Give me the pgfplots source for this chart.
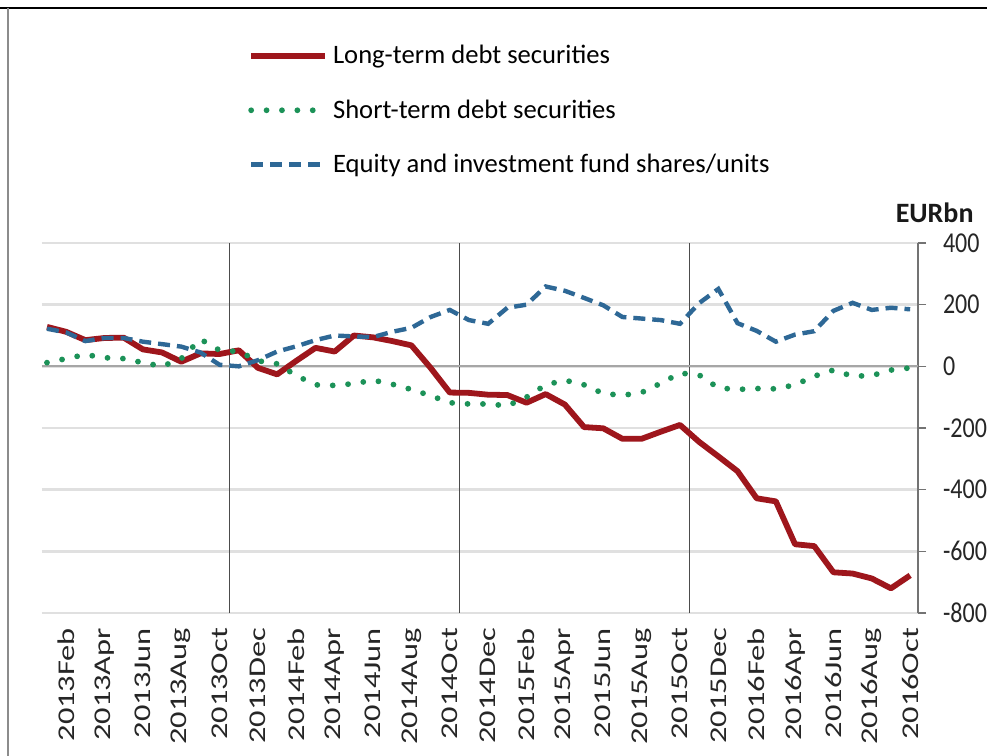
\documentclass[border=0pt]{standalone}
\usepackage{pgfplots}
\pgfplotsset{compat=1.18}
\usepackage{fontspec}
\setmainfont{Carlito}
\usepackage{graphicx}
\definecolor{ltred}{RGB}{158,22,28}
\definecolor{stgreen}{RGB}{28,146,88}
\definecolor{eqblue}{RGB}{46,104,150}
\newcommand{\sx}[1]{\scalebox{1.35}[1]{#1}}
\newcommand{\sy}[1]{\scalebox{1}[1.2]{#1}}

\pgfplotstableread{
x long short equity
0 128 12 122
1 112 25 110
2 85 38 82
3 92 28 92
4 93 25 92
5 55 12 80
6 45 0 72
7 15 25 64
8 42 88 45
9 40 52 5
10 52 48 0
11 -5 18 20
12 -26 8 48
13 18 -30 65
14 60 -60 85
15 48 -62 100
16 100 -56 97
17 94 -45 95
18 82 -58 112
19 68 -75 125
20 -5 -95 160
21 -85 -118 183
22 -86 -122 150
23 -92 -122 138
24 -93 -128 190
25 -118 -100 200
26 -90 -60 259
27 -124 -45 245
28 -197 -60 222
29 -201 -88 198
30 -235 -94 160
31 -235 -85 155
32 -212 -55 150
33 -190 -22 138
34 -245 -28 205
35 -292 -70 251
36 -340 -75 140
37 -428 -72 115
38 -438 -73 80
39 -577 -60 103
40 -583 -32 114
41 -668 -12 180
42 -672 -32 206
43 -688 -30 183
44 -720 -12 190
45 -678 -5 185
}\datatable

\begin{document}
\begin{tikzpicture}
\useasboundingbox (-21pt,-71.5pt) rectangle (472.5pt,306.5pt);
\clip (-21pt,-71.5pt) rectangle (472.5pt,306.5pt);
\fill[white] (-21pt,-71.5pt) rectangle (472.5pt,306.5pt);
\draw[black, line width=1pt] (-21pt,302.5pt) -- (472.5pt,302.5pt);
\draw[black!45, line width=1pt] (-17pt,302.5pt) -- (-17pt,-71.5pt);
\begin{axis}[
  at={(0pt,0pt)}, anchor=south west,
  scale only axis, width=438pt, height=185pt,
  xmin=-0.26, xmax=45.41, ymin=-800, ymax=400,
  axis x line*=bottom, axis y line*=right,
  x axis line style={draw=none},
  y axis line style={draw=black!55, line width=0.8pt},
  tick align=outside,
  xtick={1,3,...,45},
  xticklabels={\sx{2013Feb},\sx{2013Apr},\sx{2013Jun},\sx{2013Aug},\sx{2013Oct},\sx{2013Dec},
    \sx{2014Feb},\sx{2014Apr},\sx{2014Jun},\sx{2014Aug},\sx{2014Oct},\sx{2014Dec},
    \sx{2015Feb},\sx{2015Apr},\sx{2015Jun},\sx{2015Aug},\sx{2015Oct},\sx{2015Dec},
    \sx{2016Feb},\sx{2016Apr},\sx{2016Jun},\sx{2016Aug},\sx{2016Oct}},
  x tick label style={rotate=90, anchor=east, font=\fontsize{12pt}{14pt}\selectfont, text=black!85},
  xtick style={draw=none},
  ytick={-800,-600,...,400},
  yticklabels={\sy{-800},\sy{-600},\sy{-400},\sy{-200},\sy{0},\sy{200},\sy{400}},
  y tick label style={anchor=west, xshift=5pt, font=\fontsize{12pt}{14pt}\selectfont, text=black!85},
  ytick style={draw=black!55, line width=0.8pt},
  major tick length=4pt,
  ymajorgrids,
  major grid style={draw=black!12, line width=1.2pt},
  extra x ticks={9.5,21.5,33.5},
  extra x tick labels={},
  extra x tick style={grid=major, major grid style={draw=black!70, line width=0.5pt}, tick style={draw=none}},
  extra y ticks={0},
  extra y tick labels={},
  extra y tick style={grid=major, major grid style={draw=black!35, line width=1.1pt}},
  legend style={at={(0.235,1.535)}, anchor=north west, draw=none, fill=none,
    inner sep=0pt, font=\fontsize{13.3pt}{16pt}\selectfont, row sep=16.3pt,
    nodes={inner sep=0pt},
    /tikz/every odd column/.append style={column sep=2.5pt}},
  legend cell align=left,
  legend image code/.code={\draw[#1] (0pt,0pt) -- (37pt,0pt);},
  clip=false,
]
\addplot[ltred, line width=2.9pt, line join=round] table[x=x, y=long] {\datatable};
\addlegendentry{Long-term debt securities}
\addplot[stgreen, line width=2.9pt, line cap=round, dash pattern=on 0pt off 7.7pt] table[x=x, y=short] {\datatable};
\addlegendentry{Short-term debt securities}
\addplot[eqblue, line width=2.2pt, dash pattern=on 6pt off 3.5pt] table[x=x, y=equity] {\datatable};
\addlegendentry{Equity and investment fund shares/units}
\node[font=\fontsize{14pt}{16pt}\selectfont\bfseries, text=black!90] at (rel axis cs:1.019,1.081) {EURbn};
\end{axis}
\end{tikzpicture}
\end{document}
